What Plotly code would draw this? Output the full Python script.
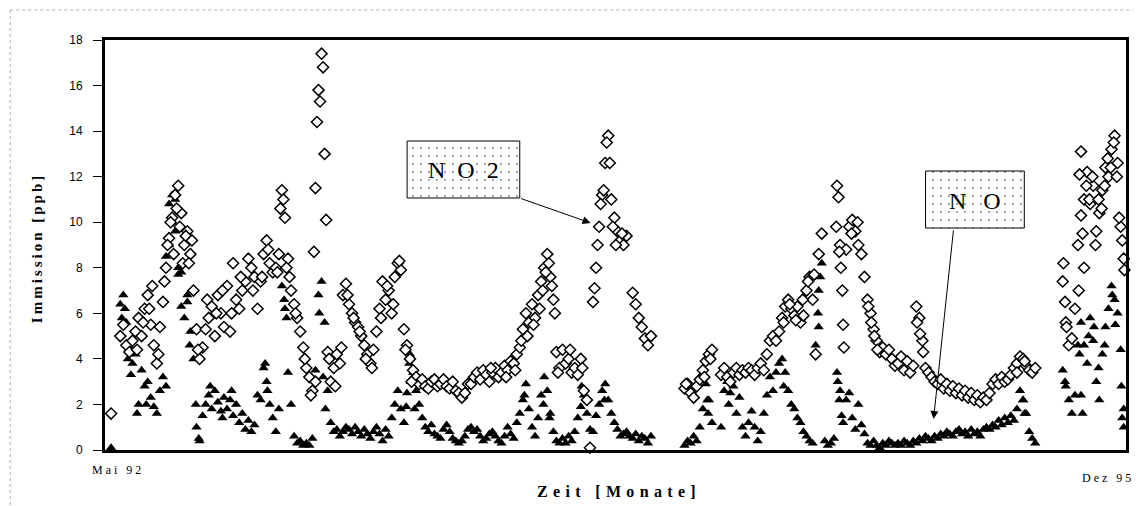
import pandas as pd
import plotly.graph_objects as go

# Daily-average immission series, sampled every 4 days from 1 May 1992
START = pd.Timestamp("1992-05-01")
END = pd.Timestamp("1995-12-31")
STEP_DAYS = 4

no2_grid = [
    None, None, 1.6, None, None, 5.0, 5.5, 4.6, 4.3, 4.8,
    5.2, 5.8, 5.0, 6.2, 6.8, 5.5, 4.6, 3.8, 5.4, 6.5,
    8.0, 9.3, 10.2, 11.2, 11.6, 10.4, 9.0, 9.6, 8.6, 7.0,
    5.3, 4.0, 4.5, 5.3, 5.8, 6.3, 5.0, 6.8, 6.0, 5.4,
    7.2, 5.2, 8.2, 6.6, 6.2, 7.0, 7.4, 8.4, 8.0, 7.6,
    6.2, 7.4, 8.6, 9.2, 8.2, 7.8, 8.0, 8.6, 11.4, 10.2,
    8.4, 7.0, 6.4, 5.8, 5.2, 4.5, 3.6, 3.2, 2.6, 11.5,
    15.8, 17.4, 13.0, 4.3, 3.0, 3.6, 4.2, 3.8, 6.8, 7.3,
    6.4, 6.0, 5.6, 5.4, 5.0, 4.6, 4.2, 3.8, 4.4, 5.2,
    6.2, 7.4, 6.6, 7.0, 6.0, 7.6, 8.2, 7.9, 5.3, 4.6,
    4.0, 3.5, 3.2, 2.9, 3.1, 2.8, 2.7, 3.0, 3.1, 2.8,
    2.9, 3.1, 2.8, 2.7, 3.0, 2.6, 2.5, 2.3, 2.5, 2.9,
    2.9, 3.2, 3.4, 3.1, 3.5, 3.3, 3.0, 3.4, 3.6, 3.2,
    3.4, 3.7, 3.5, 3.9, 3.8, 4.2, 4.5, 5.3, 6.0, 5.6,
    6.4, 5.8, 6.8, 7.4, 8.0, 8.6, 7.6, 6.6, 4.3, 3.6,
    4.4, 3.8, 4.0, 3.4, 3.6, 3.3, 4.0, 2.6, 2.2, 0.1,
    6.5, 8.0, 9.8, 11.2, 12.6, 13.8, 11.0, 10.2, 9.6, 9.2,
    9.0, 9.4, None, 6.9, 6.4, 5.8, 5.4, 4.9, 4.6, 5.0,
    None, None, None, None, None, None, None, None, None, None,
    2.7, 2.9, 2.5, 2.3, 2.8, 3.1, 3.5, 3.9, 4.2, 4.4,
    None, None, 3.3, 3.6, 3.2, 3.0, 3.4, 3.6, 3.3, 3.5,
    3.4, 3.6, 3.5, 3.3, 3.6, 3.8, 3.5, 4.2, 4.8, 5.0,
    4.8, 5.2, 5.8, 6.3, 6.6, 6.2, 5.9, 6.3, 5.6, 5.9,
    7.0, 7.6, 6.6, 4.2, 8.6, 9.5, None, None, None, None,
    11.6, 9.0, 5.5, 8.8, 9.8, 10.1, 9.6, 9.0, 8.6, 7.6,
    6.6, 6.0, 5.3, 4.8, 4.3, 4.5, 4.2, 4.4, 4.0, 3.7,
    3.8, 4.1, 3.5, 3.9, 3.4, 3.7, 6.3, 5.8, 4.8, 3.6,
    3.4, 3.2, 3.0, 2.9, 3.1, 2.7, 2.9, 2.6, 2.8, 2.5,
    2.7, 2.4, 2.6, 2.3, 2.5, 2.2, 2.4, 2.1, 2.3, 2.2,
    2.5, 2.9, 3.1, 2.9, 3.2, 3.0, 3.1, 3.3, 3.6, 3.8,
    4.1, 4.0, 3.7, 3.5, 3.4, 3.6, None, None, None, None,
    None, None, None, None, 7.4, 5.6, 4.6, 4.9, 6.2, 9.0,
    13.1, 11.0, 12.2, 10.8, 11.6, 9.6, 10.4, 11.4, 12.4, 12.0,
    13.2, 13.8, 12.6, 9.8, 8.4,
]

no_grid = [
    None, None, 0.1, None, None, 6.4, 6.8, 5.6, 4.5, 3.8,
    4.2, 2.0, 3.5, 2.8, 3.0, 2.3, 1.9, 1.6, 2.6, 3.2,
    8.5, 10.8, 11.2, 9.6, 8.0, 6.3, 5.8, 6.5, 5.2, 4.0,
    1.0, 0.4, 1.5, 2.0, 2.4, 1.8, 2.6, 2.1, 1.7, 2.3,
    1.8, 2.2, 1.5, 2.0, 1.2, 1.6, 0.9, 1.3, 0.8, 1.1,
    2.4, 2.2, 3.6, 3.0, 2.0, 1.4, 0.8, 1.8, 7.2, 6.2,
    3.4, 2.0, 0.6, 0.3, 0.4, 0.2, 0.3, 0.2, 0.5, 3.5,
    6.8, 7.4, 5.6, 2.6, 1.2, 0.8, 0.9, 0.6, 0.8, 1.0,
    0.9, 0.7, 1.0, 0.8, 0.6, 0.9, 0.7, 0.5, 0.8, 1.0,
    0.7, 0.4, 0.9, 0.6, 1.4, 2.0, 2.6, 1.8, 1.2, 2.5,
    4.2, 3.4, 2.6, 2.0, 1.4, 1.0, 0.8, 1.1, 0.7, 0.6,
    0.5, 0.9, 1.1, 0.8, 0.5, 0.4, 0.3, 0.4, 0.6, 0.9,
    1.0, 0.8, 0.9, 0.6, 0.4, 0.5, 0.7, 0.8, 0.6, 0.4,
    0.3, 0.6, 1.0, 0.7, 0.5, 1.2, 1.6, 2.2, 2.9, 1.8,
    1.0, 0.6, 1.4, 2.4, 3.2, 2.6, 1.6, 0.8, 0.4, 0.3,
    0.5, 0.3, 0.6, 0.4, 0.8, 1.4, 1.9, 2.4, 1.6, 0.9,
    0.8, 1.5, 2.0, 2.6, 2.9, 2.2, 1.6, 1.2, 0.9, 0.6,
    0.7, 0.8, 0.6, 0.5, 0.7, 0.4, 0.6, 0.5, 0.3, 0.6,
    None, None, None, None, None, None, None, None, None, None,
    0.2, 0.4, 0.3, 0.6, 0.4, 1.0, 1.8, 2.9, 2.2, 1.2,
    None, None, 1.0, 2.6, 3.0, 2.5, 2.8, 1.6, 2.3, 1.0,
    0.6, 1.2, 1.7, 1.0, 0.4, 0.8, 1.6, 2.4, 3.2, 2.6,
    3.4, 3.8, 4.0, 3.4, 2.6, 2.0, 1.8, 1.4, 1.2, 0.8,
    0.6, 0.4, 0.3, 4.6, 7.0, 8.2, 0.4, 0.2, 0.3, 0.5,
    3.4, 2.6, 1.2, 2.2, 2.5, 1.4, 0.9, 2.0, 1.1, 0.7,
    0.3, 0.2, 0.4, 0.2, 0.1, 0.3, 0.2, 0.4, 0.3, 0.2,
    0.3, 0.2, 0.4, 0.3, 0.2, 0.4, 0.3, 0.5, 0.4, 0.6,
    0.5, 0.4, 0.6, 0.5, 0.7, 0.6, 0.8, 0.7, 0.6, 0.8,
    0.9, 0.7, 0.8, 0.6, 0.9, 0.7, 0.8, 0.6, 0.9, 1.0,
    0.9, 1.1, 1.0, 1.3, 1.1, 1.4, 1.2, 1.5, 1.3, 1.8,
    2.6, 2.2, 1.6, 0.8, 0.5, 0.3, None, None, None, None,
    None, None, None, None, 3.5, 2.8, 2.2, 1.6, 2.4, 4.6,
    5.6, 4.6, 3.8, 5.8, 4.8, 3.0, 2.2, 4.2, 5.4, 6.2,
    7.2, 6.6, 6.0, 4.4, 1.8,
]

# Additional days in between the 4-day grid: (day after start, ppb)
no2_extra = [
    (42, 4.4), (50, 5.6), (58, 6.2), (62, 7.2), (70, 4.2), (78, 7.4),
    (82, 9.0), (86, 10.0), (90, 8.6), (94, 10.6), (98, 9.8), (102, 8.2),
    (106, 9.4), (110, 8.2), (114, 9.2), (122, 4.4), (134, 6.6), (146, 6.0),
    (154, 7.0), (166, 6.0), (178, 7.6), (194, 7.0), (206, 7.6), (214, 8.8),
    (226, 7.8), (230, 10.6), (234, 11.0), (238, 8.0), (242, 7.6), (250, 6.0),
    (262, 4.0), (270, 2.4), (274, 8.7), (276, 3.0), (278, 14.4), (282, 15.3),
    (286, 16.8), (290, 10.1), (294, 4.0), (302, 2.8), (310, 4.5), (318, 6.8),
    (326, 5.8), (334, 5.2), (342, 4.0), (350, 3.6), (362, 5.8), (370, 7.2),
    (378, 6.4), (386, 8.3), (394, 4.4), (402, 3.0), (506, 3.6), (526, 3.2),
    (538, 3.5), (546, 4.8), (554, 5.0), (562, 5.5), (570, 6.2), (574, 7.0),
    (578, 7.8), (582, 8.2), (586, 7.2), (590, 6.0), (594, 3.4), (610, 4.4),
    (626, 3.6), (642, 7.1), (646, 9.0), (650, 10.8), (654, 11.4), (658, 13.5),
    (662, 12.6), (666, 9.8), (670, 9.0), (678, 9.5), (762, 2.9), (786, 3.2),
    (794, 4.0), (890, 5.6), (898, 6.4), (906, 5.7), (915, 6.6), (922, 7.4),
    (930, 7.7), (959, 9.8), (962, 11.1), (963, 8.7), (965, 8.0), (967, 7.0),
    (969, 4.5), (979, 9.5), (987, 10.0), (1001, 6.3), (1005, 5.6), (1009, 5.0),
    (1013, 4.4), (1065, 5.6), (1069, 5.1), (1073, 4.3), (1196, 3.4), (1206, 3.9),
    (1257, 8.2), (1259, 6.5), (1261, 5.4), (1277, 7.0), (1278, 12.1), (1280, 10.3),
    (1282, 9.5), (1284, 8.0), (1287, 11.6), (1291, 11.0), (1295, 12.0), (1299, 9.0),
    (1303, 11.0), (1307, 10.6), (1311, 11.6), (1315, 12.8), (1319, 12.4), (1323, 13.5),
    (1327, 12.0), (1330, 10.2), (1334, 9.2), (1337, 7.9),
]

no_extra = [
    (22, 5.8), (26, 6.2), (30, 4.0), (34, 3.3), (42, 1.6), (54, 2.0),
    (80, 2.8), (84, 9.0), (88, 10.0), (92, 11.0), (96, 7.7), (100, 7.8),
    (108, 6.8), (111, 4.6), (119, 2.0), (123, 0.5), (138, 2.8), (154, 1.4),
    (166, 2.6), (210, 3.8), (213, 2.6), (235, 6.6), (238, 5.8), (281, 6.0),
    (286, 3.2), (289, 1.8), (395, 1.9), (399, 3.8), (401, 3.0), (406, 1.8),
    (550, 2.4), (575, 2.0), (583, 1.4), (625, 2.8), (655, 2.2), (790, 2.2),
    (791, 1.6), (818, 2.0), (890, 2.8), (935, 6.0), (936, 5.4), (938, 7.6),
    (961, 3.0), (963, 2.2), (966, 1.5), (1204, 2.2), (1206, 1.6), (1259, 3.0),
    (1278, 4.2), (1280, 2.4), (1282, 1.6), (1290, 5.0), (1297, 5.4), (1303, 3.6),
    (1311, 4.6), (1321, 6.8), (1325, 5.5), (1333, 2.8), (1334, 1.4), (1336, 1.0),
]

y_ticks = [0, 2, 4, 6, 8, 10, 12, 14, 16, 18]
period_labels = ["Mai 92", "Dez 95"]

assert len(no2_grid) == len(no_grid)


def series(grid, extra):
    days, vals = [], []
    for i, v in enumerate(grid):
        if v is not None:
            days.append(i * STEP_DAYS)
            vals.append(v)
    for d, v in extra:
        days.append(d)
        vals.append(v)
    dates = START + pd.to_timedelta(days, unit="D")
    return dates, vals


no2_x, no2_y = series(no2_grid, no2_extra)
no_x, no_y = series(no_grid, no_extra)

# plot-area geometry (pixels) for placing the labels and boxes
W_FIG, H_FIG = 1136, 506
L, R, T, B = 105, 1129, 40, 450


def px(x):
    return (x - L) / (R - L)


def py(y):
    return (B - y) / (B - T)


def spaced(text, gap="\u2009"):
    return gap.join(text)


SERIF = "Liberation Serif, Times New Roman, serif"
SANS = "Liberation Sans, Arial, sans-serif"


def label(fig, x, y, text, size, family=SERIF, angle=0):
    fig.add_annotation(
        x=px(x), y=py(y), xref="paper", yref="paper", text=text,
        showarrow=False, xanchor="center", yanchor="middle",
        textangle=angle, font=dict(family=family, size=size, color="black"),
    )


fig = go.Figure()

fig.add_trace(go.Scatter(
    x=no_x, y=no_y, mode="markers", name="NO", cliponaxis=False,
    marker=dict(symbol="triangle-up", size=9, color="black",
                line=dict(width=0)),
))
fig.add_trace(go.Scatter(
    x=no2_x, y=no2_y, mode="markers", name="NO2", cliponaxis=False,
    marker=dict(symbol="diamond", size=8.5, color="white",
                line=dict(width=1.5, color="black")),
))

# stippled label boxes
boxes = [
    (408, 141, 521, 198, "N\u2002O\u20022"),
    (928, 171, 1027, 228, "N\u2002\u2009O"),
]
for x0, y0, x1, y1, text in boxes:
    fig.add_trace(go.Scatter(
        x=[px(x0), px(x1), px(x1), px(x0), px(x0)],
        y=[py(y0), py(y0), py(y1), py(y1), py(y0)],
        mode="lines", fill="toself", xaxis="x2", yaxis="y2",
        line=dict(color="black", width=1), fillcolor="white",
        fillpattern=dict(shape=".", fgcolor="#222222", bgcolor="white",
                         size=8, solidity=0.06),
        hoverinfo="skip", showlegend=False,
    ))
    label(fig, (x0 + x1) / 2, (y0 + y1) / 2 + 1, text, 24)

# arrows from the boxes to the series
fig.add_annotation(x=px(592), y=py(223), xref="paper", yref="paper",
                   text="", showarrow=True, ax=521 - 592, ay=198 - 223,
                   arrowhead=2, arrowsize=1.6, arrowwidth=1, arrowcolor="black")
fig.add_annotation(x=px(936), y=py(419), xref="paper", yref="paper",
                   text="", showarrow=True, ax=956 - 936, ay=229 - 419,
                   arrowhead=2, arrowsize=1.6, arrowwidth=1, arrowcolor="black")

# period labels at both ends of the time axis
label(fig, 117, 470, spaced(period_labels[0], "\u2005"), 12)
label(fig, 1109, 478, spaced(period_labels[1], "\u2005"), 12)

# axis titles
label(fig, 618, 491, "<b>" + spaced("Zeit [Monate]", "\u2004") + "</b>", 16)
label(fig, 37, 249, "<b>" + spaced("Immission [ppb]", "\u2009") + "</b>", 15,
      angle=-90)

# faint outer frame of the chart area
fig.add_shape(type="line", xref="paper", yref="paper",
              x0=px(10), x1=px(10), y0=py(10), y1=py(506),
              line=dict(color="#b0b0b0", width=1, dash="dot"))
fig.add_shape(type="line", xref="paper", yref="paper",
              x0=px(10), x1=px(1136), y0=py(10), y1=py(10),
              line=dict(color="#b0b0b0", width=1, dash="dot"))

fig.update_layout(
    width=W_FIG, height=H_FIG,
    margin=dict(l=L, r=W_FIG - R, t=T, b=H_FIG - B),
    paper_bgcolor="white", plot_bgcolor="white",
    showlegend=False,
    xaxis=dict(type="date", range=[START, END], showticklabels=False,
               ticks="", showgrid=False, zeroline=False,
               showline=True, linewidth=3, linecolor="black", mirror=True),
    yaxis=dict(range=[0, 18], tickvals=y_ticks, ticks="outside",
               ticklen=9, tickwidth=1, tickcolor="black",
               ticklabelstandoff=8,
               tickfont=dict(family=SANS, size=12, color="black"),
               showgrid=False, zeroline=False,
               showline=True, linewidth=3, linecolor="black", mirror=True),
    xaxis2=dict(overlaying="x", range=[0, 1], visible=False, fixedrange=True),
    yaxis2=dict(overlaying="y", range=[0, 1], visible=False, fixedrange=True),
)

fig.write_html("out.html")
